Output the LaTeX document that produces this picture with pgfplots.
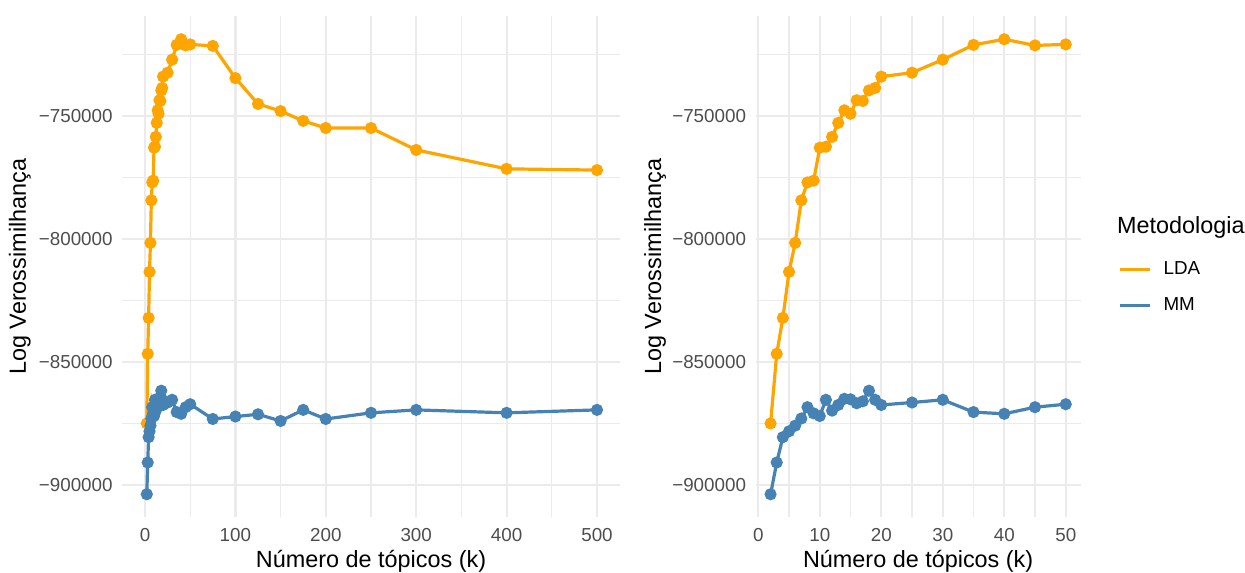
\documentclass[border=0pt]{standalone}
\usepackage{fontspec}
\setmainfont{Liberation Sans}
\usepackage{pgfplots}
\usepackage{pgfplotstable}
\pgfplotsset{compat=1.18}
\definecolor{ldaorange}{HTML}{FFA500}
\definecolor{mmblue}{HTML}{4682B4}
\definecolor{gridgray}{HTML}{EBEBEB}
\definecolor{ticktext}{HTML}{4D4D4D}

\pgfplotstableread{
k v
2 -875000
3 -846700
4 -832100
5 -813400
6 -801600
7 -784300
8 -777000
9 -776300
10 -762900
11 -762500
12 -758500
13 -752800
14 -747700
15 -749100
16 -743600
17 -743900
18 -739600
19 -738600
20 -734000
25 -732400
30 -727100
35 -721100
40 -718800
45 -721300
50 -720900
75 -721500
100 -734600
125 -745100
150 -748000
175 -752000
200 -754900
250 -754900
300 -763800
400 -771500
500 -772000
}\ldadata

\pgfplotstableread{
k v
2 -903800
3 -890900
4 -880600
5 -878200
6 -875900
7 -873000
8 -868400
9 -870900
10 -872000
11 -865400
12 -869800
13 -867500
14 -865000
15 -865200
16 -866800
17 -866000
18 -861700
19 -865400
20 -867500
25 -866500
30 -865400
35 -870400
40 -871100
45 -868400
50 -867200
75 -873200
100 -872200
125 -871300
150 -874000
175 -869500
200 -873200
250 -870700
300 -869500
400 -870700
500 -869500
}\mmdata

\pgfplotsset{
  panel/.style={
    scale only axis, height=250.25pt,
    ymin=-913050, ymax=-709550,
    scaled x ticks=false, scaled y ticks=false,
    clip mode=individual,
    axis line style={draw=none},
    major tick length=0pt, minor tick length=0pt,
    tick style={draw=none},
    grid=both,
    major grid style={gridgray, line width=1.1pt},
    minor grid style={gridgray, line width=0.55pt},
    ytick={-900000,-850000,-800000,-750000},
    yticklabels={−900000,−850000,−800000,−750000},
    minor ytick={-875000,-825000,-775000,-725000},
    ticklabel style={font=\fontsize{9.4}{11}\selectfont, text=ticktext, inner sep=0pt},
    xticklabel style={anchor=north, yshift=-5.5pt},
    yticklabel style={anchor=east, xshift=-4.7pt},
    label style={font=\fontsize{11.7}{14}\selectfont, text=black},
    xlabel={Número de tópicos (k)},
    ylabel={Log Verossimilhança},
    xlabel style={at={(axis description cs:0.5,-0.088)}, anchor=center},
    every axis plot/.append style={line width=1.6pt, mark=*, mark size=2.2pt, mark options={solid}},
  }
}

\begin{document}
\begin{tikzpicture}
\useasboundingbox (0,0) rectangle (622.5pt,286pt);

\begin{axis}[panel,
  at={(61.2pt,27.5pt)}, anchor=south west,
  width=248.6pt,
  xmin=-25, xmax=525,
  xtick={0,100,200,300,400,500},
  xticklabels={0,100,200,300,400,500},
  minor xtick={50,150,250,350,450},
  ylabel style={at={(axis description cs:-0.206,0.5)}, anchor=center},
]
\addplot[color=ldaorange] table[x=k, y=v] {\ldadata};
\addplot[color=mmblue] table[x=k, y=v] {\mmdata};
\end{axis}

\begin{axis}[panel,
  at={(377.9pt,27.5pt)}, anchor=south west,
  width=162.35pt,
  xmin=-0.4, xmax=52.4,
  xtick={0,10,20,30,40,50},
  xticklabels={0,10,20,30,40,50},
  minor xtick={5,15,25,35,45},
  ylabel style={at={(axis description cs:-0.3104,0.5)}, anchor=center},
  legend cell align=left,
  legend style={at={(axis description cs:1.1166,0.513)}, anchor=north west,
    draw=none, fill=none, inner sep=0pt, outer sep=0pt,
    font=\fontsize{9.4}{11}\selectfont, row sep=9pt,
    nodes={inner sep=0pt, text height=7pt, text depth=2pt},
    /tikz/every odd column/.append style={column sep=6pt}},
  legend image code/.code={\draw[#1] (0pt,0pt) -- (15pt,0pt);},
]
\addplot[color=ldaorange, restrict x to domain=0:50] table[x=k, y=v] {\ldadata};
\addlegendentry{LDA}
\addplot[color=mmblue, restrict x to domain=0:50] table[x=k, y=v] {\mmdata};
\addlegendentry{MM}
\node[anchor=base west, inner sep=0pt, font=\fontsize{11.7}{14}\selectfont] at (axis description cs:1.1115,0.5674) {Metodologia};
\end{axis}
\end{tikzpicture}
\end{document}
